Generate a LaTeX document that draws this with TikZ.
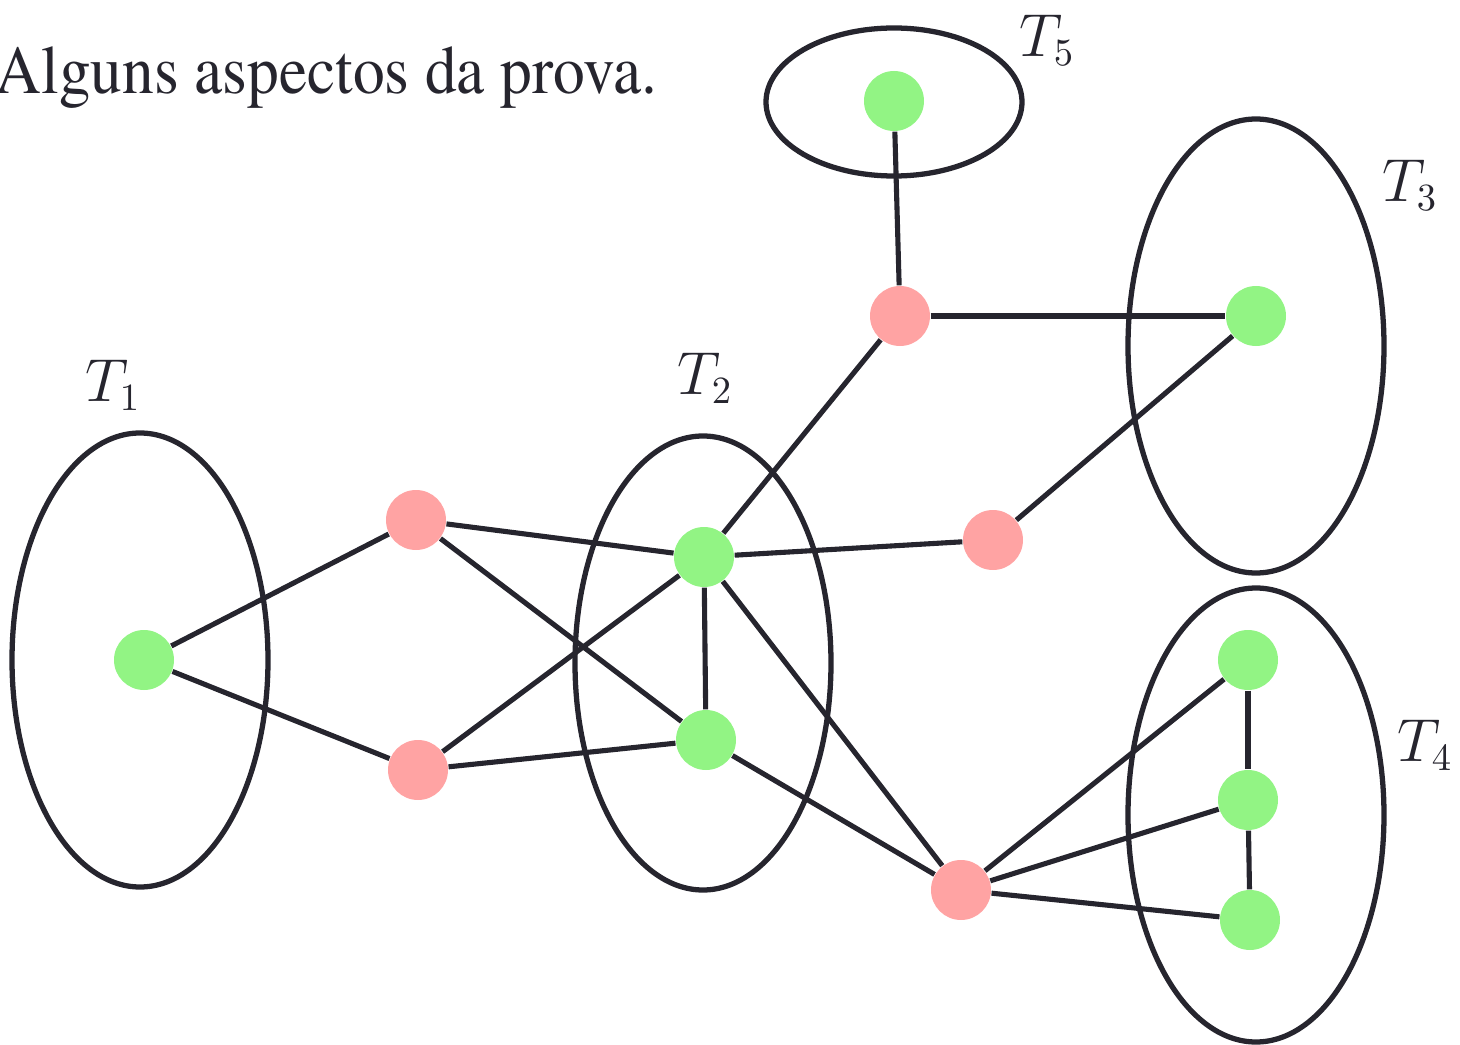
\documentclass[tikz,border=0pt]{standalone}
\usepackage{amsmath}
\usepackage{fontspec}
\newfontfamily\titlefont{TeX Gyre Termes}
\usepackage{tikz}
\usetikzlibrary{positioning,shapes.geometric}
\definecolor{edgedark}{RGB}{38, 37, 46}
\definecolor{vgreen}{RGB}{146, 244, 132}
\definecolor{vpink}{RGB}{255, 163, 163}

\begin{document}
\begin{tikzpicture}[
  gnode/.style={circle, fill=vgreen, minimum size=0.6cm, inner sep=0pt},
  rnode/.style={circle, fill=vpink, minimum size=0.6cm, inner sep=0pt},
  tree/.style={ellipse, draw=edgedark, line width=1.5pt, inner sep=0pt, minimum width=2.56cm, minimum height=4.54cm},
  lbl/.style={font=\fontsize{16}{18}\selectfont, text=edgedark},
  link/.style={draw=edgedark, line width=1.45pt}]
\useasboundingbox (0,0) rectangle (14.6,10.44);

% trees
\node[tree] (t1) at (1.40,3.84) {};
\node[tree] (t2) at (7.03,3.81) {};
\node[tree] (t3) at (12.56,6.98) {};
\node[tree] (t4) at (12.56,2.29) {};
\node[tree, minimum height=1.48cm] (t5) at (8.94,9.42) {};

\node[lbl] (l1) at (1.13,6.59) {$T_1$};
\node[lbl] (l2) at (7.05,6.66) {$T_2$};
\node[lbl] (l3) at (14.10,8.59) {$T_3$};
\node[lbl] (l4) at (14.25,2.99) {$T_4$};
\node[lbl] (l5) at (10.47,10.04) {$T_5$};

\node[anchor=base west, inner sep=0pt, xscale=0.925, transform shape, text=edgedark, font=\titlefont\fontsize{19.5}{22}\selectfont] (title) at (-0.05,9.5) {Alguns aspectos da prova.};

% vertices
\node[gnode] (g1) at (1.44,3.84) {};
\node[gnode] (g2a) at (7.04,4.87) {};
\node[gnode] (g2b) at (7.06,3.04) {};
\node[gnode] (g3) at (12.56,7.28) {};
\node[gnode] (g4a) at (12.48,3.84) {};
\node[gnode] (g4b) at (12.48,2.44) {};
\node[gnode] (g4c) at (12.50,1.24) {};
\node[gnode] (g5) at (8.94,9.43) {};

\node[rnode] (r1) at (4.16,5.24) {};
\node[rnode] (r2) at (4.18,2.74) {};
\node[rnode] (r3) at (9.00,7.28) {};
\node[rnode] (r4) at (9.93,5.04) {};
\node[rnode] (r5) at (9.61,1.54) {};

% edges
\draw[link] (g1) -- (r1);
\draw[link] (g1) -- (r2);
\draw[link] (r1) -- (g2a);
\draw[link] (r1) -- (g2b);
\draw[link] (r2) -- (g2a);
\draw[link] (r2) -- (g2b);
\draw[link] (g2a) -- (g2b);
\draw[link] (g2a) -- (r3);
\draw[link] (g2a) -- (r4);
\draw[link] (g2a) -- (r5);
\draw[link] (g2b) -- (r5);
\draw[link] (r3) -- (g5);
\draw[link] (r3) -- (g3);
\draw[link] (r4) -- (g3);
\draw[link] (r5) -- (g4a);
\draw[link] (r5) -- (g4b);
\draw[link] (r5) -- (g4c);
\draw[link] (g4a) -- (g4b);
\draw[link] (g4b) -- (g4c);
\end{tikzpicture}
\end{document}
